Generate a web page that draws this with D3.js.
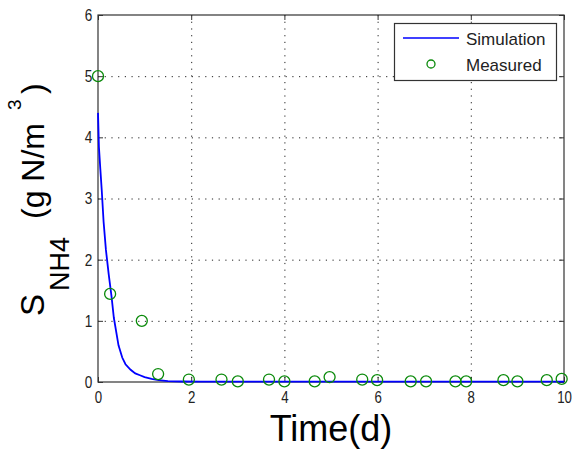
<!DOCTYPE html>
<html>
<head>
<meta charset="utf-8">
<script src="https://cdn.jsdelivr.net/npm/d3@7"></script>
<style>
  body { margin: 0; background: #fff; }
  svg { display: block; font-family: "Liberation Sans", Arial, sans-serif; }
</style>
</head>
<body>
<svg id="chart" width="572" height="449"></svg>
<script>
// simulation curve
var simTime = [0, 0.02, 0.05, 0.08, 0.12, 0.17, 0.23, 0.29, 0.34, 0.44, 0.52, 0.59, 0.7, 0.8, 0.9, 1.0, 1.15, 1.3, 1.5, 1.8, 2.2, 3, 4, 5, 6, 7, 8, 9, 10];
var simValue = [4.4, 3.84, 3.48, 3.14, 2.62, 2.16, 1.76, 1.4, 1.05, 0.6, 0.4, 0.29, 0.2, 0.14, 0.11, 0.08, 0.05, 0.03, 0.015, 0.008, 0.005, 0.005, 0.005, 0.005, 0.005, 0.005, 0.005, 0.005, 0.005];

// measured points
var measTime = [0, 0.26, 0.94, 1.29, 1.95, 2.65, 3.0, 3.67, 4.0, 4.65, 4.97, 5.67, 5.99, 6.71, 7.04, 7.67, 7.9, 8.7, 9.0, 9.63, 9.95];
var measValue = [5.0, 1.44, 1.0, 0.13, 0.04, 0.04, 0.01, 0.04, 0.01, 0.01, 0.08, 0.04, 0.03, 0.01, 0.01, 0.01, 0.01, 0.03, 0.01, 0.03, 0.05];

var xTicks = [0, 2, 4, 6, 8, 10];
var yTicks = [0, 1, 2, 3, 4, 5, 6];
var legendLabels = ["Simulation", "Measured"];

var svg = d3.select("#chart");
var pL = 98, pR = 564, pT = 15, pB = 382;

var x = d3.scaleLinear().domain([0, 10]).range([pL, pR]);
var y = d3.scaleLinear().domain([0, 6]).range([pB, pT]);

// dotted grid
svg.append("g").selectAll("line")
  .data(xTicks.slice(1, -1))
  .join("line")
  .attr("x1", d => x(d) + 0.5).attr("x2", d => x(d) + 0.5)
  .attr("y1", pT).attr("y2", pB)
  .attr("stroke", "#222").attr("stroke-dasharray", "1.2,5.5");
svg.append("g").selectAll("line")
  .data(yTicks.slice(1, -1))
  .join("line")
  .attr("y1", d => y(d) + 0.5).attr("y2", d => y(d) + 0.5)
  .attr("x1", pL).attr("x2", pR)
  .attr("stroke", "#222").attr("stroke-dasharray", "1.2,5.5");

// axes, ticks inside like matlab
function styleAxis(g) {
  g.select(".domain").remove();
  g.selectAll(".tick line").attr("stroke", "#333");
  g.selectAll(".tick text").attr("fill", "#222").style("font-size", "17px")
    .style("font-family", "'Liberation Sans', Arial, sans-serif");
}
svg.append("g").attr("transform", "translate(0," + pB + ")")
  .call(d3.axisBottom(x).tickValues(xTicks).tickSize(-5).tickPadding(9).tickFormat(d3.format("d")))
  .call(styleAxis)
  .selectAll(".tick text").attr("transform", "scale(0.78,1)");
svg.append("g").attr("transform", "translate(0," + pT + ")")
  .call(d3.axisTop(x).tickValues(xTicks).tickSize(-5).tickFormat(""))
  .call(styleAxis);
svg.append("g").attr("transform", "translate(" + pL + ",0)")
  .call(d3.axisLeft(y).tickValues(yTicks).tickSize(-5).tickPadding(7).tickFormat(d3.format("d")))
  .call(styleAxis)
  .selectAll(".tick text").attr("transform", "scale(0.8,1)");
svg.append("g").attr("transform", "translate(" + pR + ",0)")
  .call(d3.axisRight(y).tickValues(yTicks).tickSize(-5).tickFormat(""))
  .call(styleAxis);

svg.append("rect")
  .attr("x", pL).attr("y", pT)
  .attr("width", pR - pL).attr("height", pB - pT)
  .attr("fill", "none").attr("stroke", "#333").attr("stroke-width", 1.2);

// simulation line
var line = d3.line().x((d, i) => x(simTime[i])).y(d => y(d));
svg.append("path")
  .datum(simValue)
  .attr("d", line)
  .attr("fill", "none")
  .attr("stroke", "#0000ff")
  .attr("stroke-width", 1.8);

// measured circles
svg.append("g").selectAll("circle")
  .data(measValue)
  .join("circle")
  .attr("cx", (d, i) => x(measTime[i]))
  .attr("cy", d => y(d))
  .attr("r", 5.5)
  .attr("fill", "none")
  .attr("stroke", "#0a8a0a")
  .attr("stroke-width", 1.3);

// legend
var lg = svg.append("g");
lg.append("rect")
  .attr("x", 394.5).attr("y", 23.5).attr("width", 162).attr("height", 57)
  .attr("fill", "#fff").attr("stroke", "#333").attr("stroke-width", 1.2);
lg.append("line")
  .attr("x1", 403).attr("x2", 459).attr("y1", 38).attr("y2", 38)
  .attr("stroke", "#0000ff").attr("stroke-width", 1.5);
lg.append("circle")
  .attr("cx", 431).attr("cy", 64).attr("r", 4)
  .attr("fill", "none").attr("stroke", "#0a8a0a").attr("stroke-width", 1.3);
lg.selectAll("text")
  .data(legendLabels)
  .join("text")
  .attr("x", 466)
  .attr("y", (d, i) => 45 + i * 26)
  .attr("fill", "#222")
  .style("font-size", "17px")
  .text(d => d);

// x label
svg.append("text")
  .attr("x", (pL + pR) / 2)
  .attr("y", 441)
  .attr("text-anchor", "middle")
  .style("font-size", "36px")
  .text("Time(d)");

// y label with sub/superscript
var yl = svg.append("text")
  .attr("transform", "rotate(-90)");
yl.append("tspan").attr("x", -316).attr("y", 44).style("font-size", "33px").text("S");
yl.append("tspan").attr("x", -291).attr("y", 69).style("font-size", "27px").text("NH4");
yl.append("tspan").attr("x", -219).attr("y", 44).style("font-size", "32px").text("(g N/m");
yl.append("tspan").attr("x", -110).attr("y", 21).style("font-size", "19px").text("3");
yl.append("tspan").attr("x", -94).attr("y", 44).style("font-size", "32px").text(")");
</script>
</body>
</html>
